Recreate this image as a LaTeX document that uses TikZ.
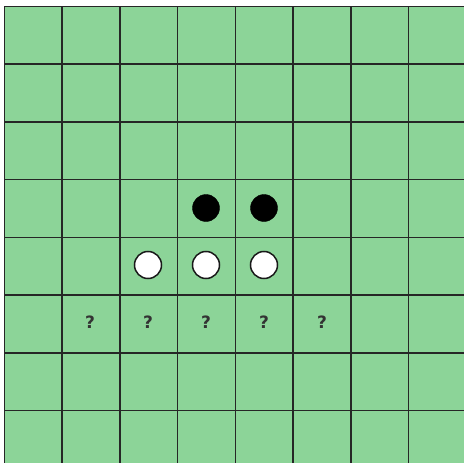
\documentclass[tikz,border=0pt]{standalone}
\usepackage{fontspec}
\setsansfont{DejaVu Sans}
\definecolor{board}{RGB}{140,212,152}
\begin{document}
\begin{tikzpicture}[x=1pt,y=-1pt,
  gridline/.style={line width=1.5pt,black!85},
  blackpiece/.style={circle,fill=black,draw=black,minimum size=27pt,inner sep=0pt},
  whitepiece/.style={circle,fill=white,draw=black!90,line width=1.5pt,minimum size=27pt,inner sep=0pt},
  qmark/.style={font=\sffamily\bfseries\fontsize{17}{17}\selectfont,text=black!80,inner sep=0pt}]
\useasboundingbox (0,0) rectangle (464,463);
\fill[white] (0,0) rectangle (464,463);
\fill[board] (4,6) rectangle (470,470);
\foreach \i in {0,...,8} {
  \draw[gridline] ({4.3+\i*57.75},6) -- ({4.3+\i*57.75},470);
  \draw[gridline] (4,{6.3+\i*57.75}) -- (470,{6.3+\i*57.75});
}
\node[blackpiece] (b1) at (206,208) {};
\node[blackpiece] (b2) at (264,208) {};
\node[whitepiece] (w1) at (148,265) {};
\node[whitepiece] (w2) at (206,265) {};
\node[whitepiece] (w3) at (264,265) {};
\node[qmark] (q1) at (90,322) {?};
\node[qmark] (q2) at (148,322) {?};
\node[qmark] (q3) at (206,322) {?};
\node[qmark] (q4) at (264,322) {?};
\node[qmark] (q5) at (322,322) {?};
\end{tikzpicture}
\end{document}
